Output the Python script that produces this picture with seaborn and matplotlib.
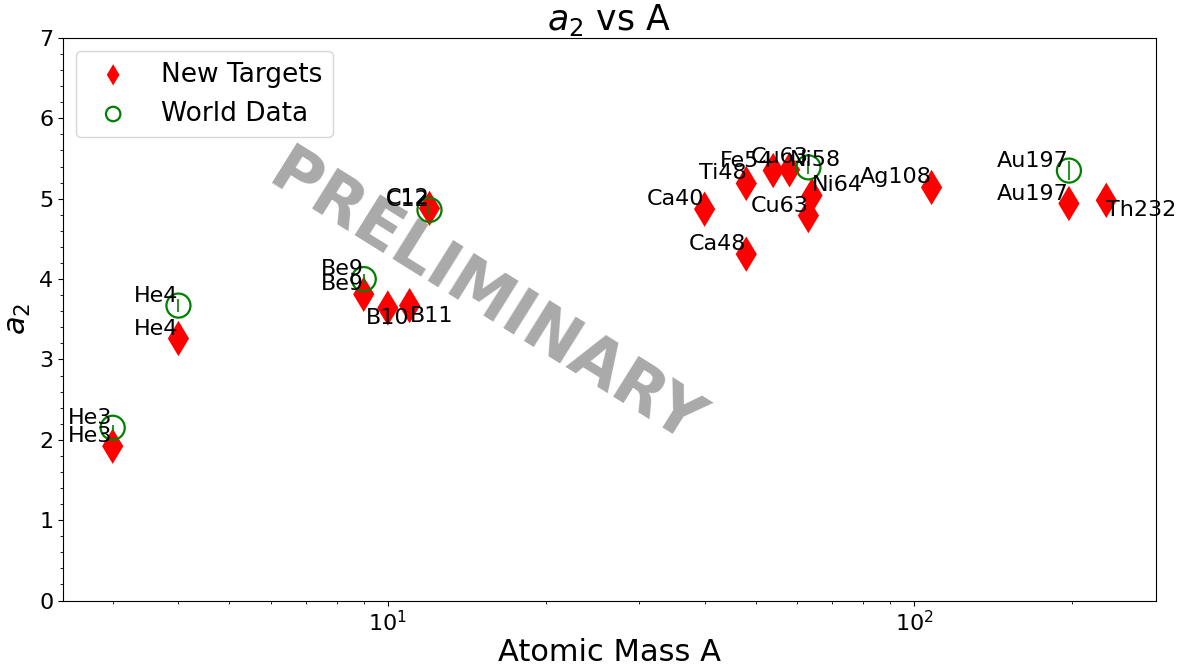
import numpy as np
import pandas as pd
import matplotlib
matplotlib.use("Agg")
import matplotlib.pyplot as plt
import seaborn as sns
from matplotlib.ticker import AutoMinorLocator

# new targets (this measurement)
new_targets = ["He3", "He4", "Be9", "B10", "B11", "C12", "Ca40", "Ca48", "Ti48",
               "Fe54", "Ni58", "Cu63", "Ni64", "Ag108", "Au197", "Th232"]
new_A = [3, 4, 9, 10, 11, 12, 40, 48, 48, 54, 58, 63, 64, 108, 197, 232]
new_a2 = [1.92, 3.26, 3.81, 3.64, 3.67, 4.88, 4.87, 4.31, 5.19,
          5.35, 5.36, 4.79, 5.04, 5.14, 4.94, 4.98]

# world data
world_targets = ["He3", "He4", "Be9", "C12", "Cu63", "Au197"]
world_A = [3, 4, 9, 12, 63, 197]
world_a2 = [2.15, 3.67, 4.00, 4.86, 5.39, 5.35]
world_err = [0.04, 0.08, 0.06, 0.06, 0.08, 0.12]

new_df = pd.DataFrame({"A": new_A, "a2": new_a2, "target": new_targets})
world_df = pd.DataFrame({"A": world_A, "a2": world_a2, "target": world_targets})

# labels that don't sit up-left of their point
label_align = {"Ni58": ("left", "bottom"), "Ni64": ("left", "bottom"),
               "B10": ("center", "top"), "B11": ("left", "top"),
               "Th232": ("left", "top")}

fig = plt.figure(figsize=(11.78, 6.64), dpi=100)
ax = fig.add_axes([0.0535, 0.0956, 0.9278, 0.8472])

sns.scatterplot(data=new_df, x="A", y="a2", marker="d", s=324, color="red",
                edgecolor="none", linewidth=0, label="New Targets", ax=ax, zorder=3)
ax.errorbar(world_A, world_a2, yerr=world_err, fmt="none", ecolor="green",
            elinewidth=1.2, zorder=4)
sns.scatterplot(data=world_df, x="A", y="a2", marker="o", s=300, facecolor="none",
                edgecolor="green", linewidth=1.6, label="World Data", ax=ax, zorder=4)
ax.set_xscale("log")

for _, r in new_df.iterrows():
    ha, va = label_align.get(r["target"], ("right", "bottom"))
    ax.text(r["A"], r["a2"], r["target"], ha=ha, va=va, fontsize=16, zorder=5)
for _, r in world_df.iterrows():
    ax.text(r["A"], r["a2"], r["target"], ha="right", va="bottom", fontsize=16, zorder=5)

ax.text(0.386, 0.535, "PRELIMINARY", transform=ax.transAxes, fontsize=47,
        fontweight="bold", color="darkgray", rotation=-32, ha="center",
        va="center", rotation_mode="anchor", zorder=2)

ax.set_ylim(0, 7)
ax.yaxis.set_minor_locator(AutoMinorLocator(5))
ax.tick_params(labelsize=16)
ax.set_xlabel("Atomic Mass A", fontsize=22, labelpad=2)
ax.set_ylabel("$a_2$", fontsize=22)
ax.set_title("$a_2$ vs A", fontsize=25)
ax.legend(loc="upper left", fontsize=19, markerscale=0.6)

fig.savefig("out.png", dpi=100)
